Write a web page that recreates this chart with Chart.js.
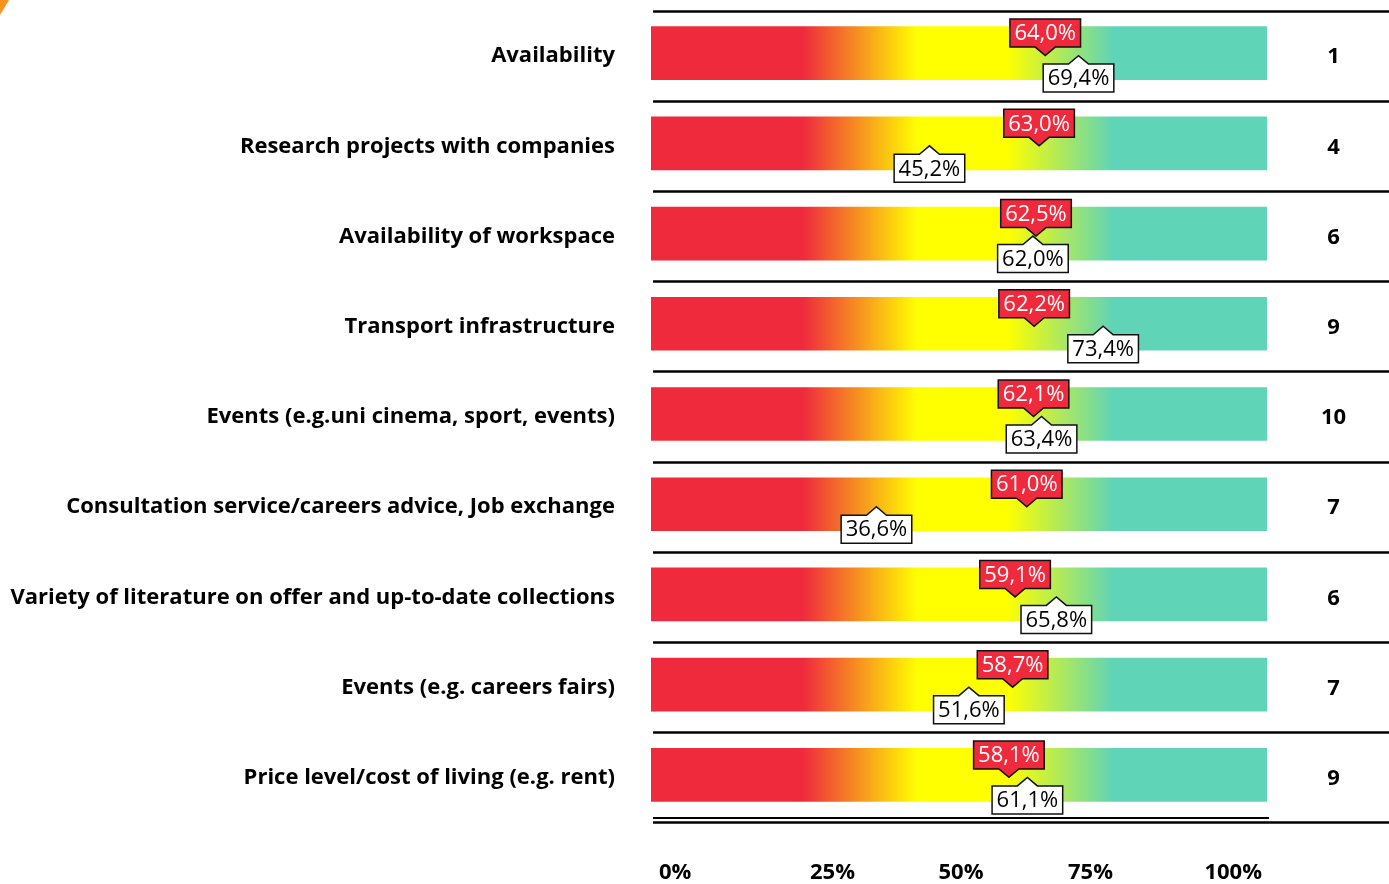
<!DOCTYPE html>
<html>
<head>
<meta charset="utf-8">
<title>Ranking</title>
<script src="https://cdn.jsdelivr.net/npm/chart.js@4.4.0/dist/chart.umd.min.js"></script>
<style>
  html, body { margin: 0; padding: 0; background: #fff; }
  #wrap { position: relative; width: 1389px; height: 884px; }
</style>
</head>
<body>
<div id="wrap"><canvas id="chart"></canvas></div>
<script>
/* ---- Daten ---- */
const CATEGORIES = [
  'Availability',
  'Research projects with companies',
  'Availability of workspace',
  'Transport infrastructure',
  'Events (e.g.uni cinema, sport, events)',
  'Consultation service/careers advice, Job exchange',
  'Variety of literature on offer and up-to-date collections',
  'Events (e.g. careers fairs)',
  'Price level/cost of living (e.g. rent)'
];
const TRACK = [100, 100, 100, 100, 100, 100, 100, 100, 100];
const SCORE_RED = [64.0, 63.0, 62.5, 62.2, 62.1, 61.0, 59.1, 58.7, 58.1];
const SCORE_WHITE = [69.4, 45.2, 62.0, 73.4, 63.4, 36.6, 65.8, 51.6, 61.1];
const RANKS = ['1', '4', '6', '9', '10', '7', '6', '7', '9'];
const TICK_VALUES = [0, 25, 50, 75, 100];
const TICK_LABELS = ['0%', '25%', '50%', '75%', '100%'];

/* ---- Stil ---- */
const RED = '#EF2A3D';
const YELLOW = '#FFFF00';
const TEAL = '#60D4B7';
const FONT = '"Open Sans", Lato, sans-serif';
const LABEL_FONT = 'bold 22px ' + FONT;
const CALLOUT_FONT = '22px ' + FONT;

const fmt = v => v.toFixed(1).replace('.', ',') + '%';

function callout(ctx, x, y, text, fill, color, below) {
  ctx.save();
  ctx.font = CALLOUT_FONT;
  const w = ctx.measureText(text).width + 9;
  const h = 28, tip = 8.5, half = 10;
  const l = x - w / 2, r = x + w / 2;
  ctx.beginPath();
  let t, b;
  if (!below) {
    b = y - tip; t = b - h;
    ctx.moveTo(l, t); ctx.lineTo(r, t); ctx.lineTo(r, b);
    ctx.lineTo(x + half, b); ctx.lineTo(x, y); ctx.lineTo(x - half, b);
    ctx.lineTo(l, b);
  } else {
    t = y + tip; b = t + h;
    ctx.moveTo(l, t); ctx.lineTo(x - half, t); ctx.lineTo(x, y);
    ctx.lineTo(x + half, t); ctx.lineTo(r, t); ctx.lineTo(r, b);
    ctx.lineTo(l, b);
  }
  ctx.closePath();
  ctx.fillStyle = fill;
  ctx.fill();
  ctx.lineWidth = 1.5;
  ctx.strokeStyle = '#111';
  ctx.stroke();
  ctx.fillStyle = color;
  ctx.textAlign = 'center';
  ctx.textBaseline = 'middle';
  ctx.fillText(text, x, (t + b) / 2 + 1);
  ctx.restore();
}

const decor = {
  id: 'decor',
  beforeDatasetsDraw(chart) {
    const { ctx, scales: { x, y } } = chart;
    const step = y.getPixelForValue(1) - y.getPixelForValue(0);
    ctx.save();
    ctx.strokeStyle = '#000';
    ctx.lineWidth = 2.6;
    for (let i = 0; i < CATEGORIES.length; i++) {
      const ly = Math.round(y.getPixelForValue(i) - step / 2 + 2.5) + 0.5;
      ctx.beginPath();
      ctx.moveTo(x.left + 2, ly);
      ctx.lineTo(chart.width, ly);
      ctx.stroke();
    }
    // doppelte Abschlusslinie
    const end = y.getPixelForValue(CATEGORIES.length - 1) + step / 2;
    ctx.lineWidth = 2.2;
    ctx.beginPath();
    ctx.moveTo(x.left + 2, end - 2); ctx.lineTo(x.right + 2, end - 2);
    ctx.stroke();
    ctx.lineWidth = 2.6;
    ctx.beginPath();
    ctx.moveTo(x.left + 2, end + 2.5); ctx.lineTo(chart.width, end + 2.5);
    ctx.stroke();

    // Ecke oben links
    ctx.fillStyle = '#F7931E';
    ctx.beginPath();
    ctx.moveTo(0, 0); ctx.lineTo(9, 0); ctx.lineTo(0, 15);
    ctx.closePath();
    ctx.fill();
    ctx.restore();
  },
  afterDatasetsDraw(chart) {
    const { ctx, scales: { x, y } } = chart;
    for (let i = 0; i < CATEGORIES.length; i++) {
      const cy = y.getPixelForValue(i) + 2.5;
      callout(ctx, x.getPixelForValue(SCORE_RED[i]), cy, fmt(SCORE_RED[i]), RED, '#fff', false);
      callout(ctx, x.getPixelForValue(SCORE_WHITE[i]), cy, fmt(SCORE_WHITE[i]), '#fff', '#000', true);
    }
    // Achsenbeschriftung unten
    const anchor = [['left', 8], ['left', 5], ['center', 2], ['right', 0], ['right', -5]];
    ctx.save();
    ctx.font = LABEL_FONT;
    ctx.fillStyle = '#000';
    ctx.textBaseline = 'middle';
    TICK_VALUES.forEach((v, i) => {
      ctx.textAlign = anchor[i][0];
      ctx.fillText(TICK_LABELS[i], x.getPixelForValue(v) + anchor[i][1], 873);
    });
    ctx.restore();
  }
};

new Chart(document.getElementById('chart'), {
  type: 'bar',
  data: {
    labels: CATEGORIES,
    datasets: [{
      data: TRACK,
      yAxisID: 'y',
      barThickness: 53,
      borderWidth: 0,
      backgroundColor: (c) => {
        const chart = c.chart;
        const xs = chart.scales.x;
        if (!chart.chartArea || !xs) return RED;
        const g = chart.ctx.createLinearGradient(xs.getPixelForValue(0), 0, xs.getPixelForValue(100), 0);
        g.addColorStop(0, RED);
        g.addColorStop(0.247, RED);
        g.addColorStop(0.432, YELLOW);
        g.addColorStop(0.578, YELLOW);
        g.addColorStop(0.75, TEAL);
        g.addColorStop(1, TEAL);
        return g;
      }
    }]
  },
  options: {
    indexAxis: 'y',
    responsive: true,
    maintainAspectRatio: false,
    animation: false,
    layout: { padding: { top: 8, bottom: 64, left: 0, right: 0 } },
    plugins: { legend: { display: false }, tooltip: { enabled: false } },
    scales: {
      x: {
        display: false,
        min: 0, max: 100
      },
      y: {
        type: 'category',
        position: 'left',
        offset: true,
        grid: { display: false, drawTicks: false },
        border: { display: false },
        ticks: {
          color: '#000',
          font: { family: FONT, size: 22, weight: 'bold' },
          padding: 36,
          labelOffset: 3,
          autoSkip: false
        },
        afterFit: (s) => { s.width = 651; s.paddingTop = 0; s.paddingBottom = 0; }
      },
      y2: {
        type: 'category',
        position: 'right',
        labels: RANKS,
        offset: true,
        grid: { display: false, drawTicks: false },
        border: { display: false },
        ticks: {
          color: '#000',
          font: { family: FONT, size: 22, weight: 'bold' },
          crossAlign: 'center',
          padding: 54,
          labelOffset: 4,
          autoSkip: false
        },
        afterFit: (s) => { s.width = 122; s.paddingTop = 0; s.paddingBottom = 0; }
      }
    }
  },
  plugins: [decor]
});
</script>
</body>
</html>
